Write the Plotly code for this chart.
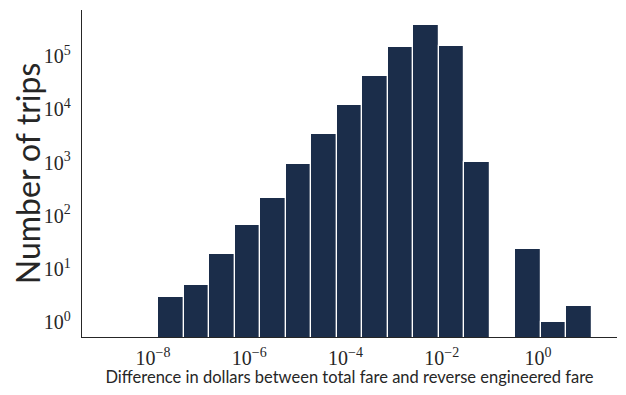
import numpy as np
import plotly.graph_objects as go

# Histogram data (log10 bin edges span, counts per bin)
log_lo = -7.895
log_hi = 1.12
counts = [3, 5, 19, 67, 217, 947, 3475, 12210, 42850, 149300, 390800, 157300, 1033, 0, 24, 1, 2]
x_tickvals = [-8, -6, -4, -2, 0]
x_ticktext = ["10<sup>−8</sup>", "10<sup>−6</sup>", "10<sup>−4</sup>", "10<sup>−2</sup>", "10<sup>0</sup>"]
y_tickvals = [1, 10, 100, 1000, 10000, 100000]
y_ticktext = ["10<sup>0</sup>", "10<sup>1</sup>", "10<sup>2</sup>", "10<sup>3</sup>", "10<sup>4</sup>", "10<sup>5</sup>"]

n = len(counts)
edges = np.linspace(log_lo, log_hi, n + 1)
centers = (edges[:-1] + edges[1:]) / 2
width = (log_hi - log_lo) / n
yvals = [c if c > 0 else None for c in counts]

fig = go.Figure(go.Bar(
    x=centers, y=yvals, width=width,
    marker=dict(color="#1b2d4a", line=dict(color="white", width=1.2)),
    hoverinfo="skip",
))

serif = "Liberation Serif, DejaVu Serif, serif"
sans = "Lato, Noto Sans, DejaVu Sans, sans-serif"

fig.update_layout(
    width=610, height=379,
    margin=dict(l=74, r=1.3, t=2, b=50.3, autoexpand=False),
    paper_bgcolor="white", plot_bgcolor="white",
    showlegend=False,
    bargap=0,
    xaxis=dict(
        range=[-9.476, 1.641], tickvals=x_tickvals, ticktext=x_ticktext,
        showgrid=False, zeroline=False, showline=True, linecolor="#262626", linewidth=1.3,
        ticks="", ticklabelstandoff=3, automargin=False,
        tickfont=dict(family=serif, size=20, color="#262626"),
        title=dict(text="Difference in dollars between total fare and reverse engineered fare",
                   font=dict(family=sans, size=16.5, color="#262626"), standoff=8),
    ),
    yaxis=dict(
        type="log", range=[-0.28, 5.87], tickvals=y_tickvals, ticktext=y_ticktext,
        showgrid=False, zeroline=False, showline=True, linecolor="#262626", linewidth=1.3,
        ticks="", ticklabelstandoff=6, automargin=False,
        tickfont=dict(family=serif, size=20, color="#262626"),
        title=dict(text="Number of trips", font=dict(family=sans, size=32, color="#262626"), standoff=14),
    ),
)

fig.write_html("out.html")
